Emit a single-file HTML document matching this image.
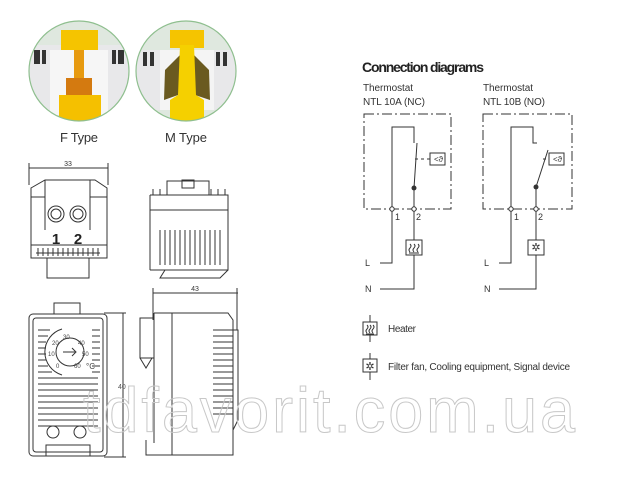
<!DOCTYPE html>
<html><head><meta charset="utf-8"><style>
html,body{margin:0;padding:0;background:#fff;}
svg{display:block;font-family:"Liberation Sans",sans-serif;}
</style></head><body>
<svg width="640" height="477" viewBox="0 0 640 477" xmlns="http://www.w3.org/2000/svg">
<defs>
<clipPath id="c1"><circle cx="79" cy="71" r="50"/></clipPath>
<clipPath id="c2"><circle cx="186" cy="71" r="50"/></clipPath>
</defs>
<!-- F type -->
<g clip-path="url(#c1)">
<rect x="20" y="15" width="120" height="115" fill="#dfe8df"/>
<rect x="29" y="45" width="100" height="70" fill="#e8e8ea"/>
<rect x="34" y="50" width="6" height="14" fill="#333"/><rect x="42" y="50" width="4" height="14" fill="#333"/>
<rect x="112" y="50" width="4" height="14" fill="#333"/><rect x="118" y="50" width="6" height="14" fill="#333"/>
<rect x="50" y="50" width="58" height="65" fill="#f6f6f6"/>
<rect x="61" y="30" width="37" height="20" fill="#f5c400"/>
<rect x="74" y="50" width="10" height="30" fill="#e79a10"/>
<rect x="66" y="78" width="26" height="25" fill="#d47a10"/>
<rect x="59" y="95" width="42" height="30" fill="#f5c000"/>
</g>
<circle cx="79" cy="71" r="50" fill="none" stroke="#8fbf8f" stroke-width="1.2"/>
<!-- M type -->
<g clip-path="url(#c2)">
<rect x="130" y="15" width="120" height="115" fill="#dfe8df"/>
<rect x="136" y="50" width="100" height="60" fill="#e8e8ea"/>
<rect x="143" y="52" width="4" height="14" fill="#333"/><rect x="150" y="52" width="4" height="14" fill="#333"/>
<rect x="216" y="52" width="4" height="14" fill="#333"/><rect x="223" y="52" width="4" height="14" fill="#333"/>
<rect x="160" y="50" width="54" height="60" fill="#f4f4f4"/>
<rect x="170" y="30" width="34" height="18" fill="#f5c400"/>
<polygon points="165,70 180,55 194,55 209,70 210,100 195,95 186,60 178,95 164,100" fill="#6a5a20"/>
<polygon points="180,45 194,45 196,95 204,100 204,122 170,122 170,100 178,95" fill="#f5d000"/>
</g>
<circle cx="186" cy="71" r="50" fill="none" stroke="#8fbf8f" stroke-width="1.2"/>
<text x="79" y="142" font-size="13" text-anchor="middle" fill="#333" textLength="38">F Type</text>
<text x="186" y="142" font-size="13" text-anchor="middle" fill="#333" textLength="42">M Type</text>

<g fill="none" stroke="#333" stroke-width="1">
<!-- front top view -->
<line x1="29" y1="168" x2="108" y2="168"/><line x1="29" y1="163" x2="29" y2="185"/><line x1="108" y1="163" x2="108" y2="185"/>
<path d="M45 180 L95 180 L107 188 L107 258 L31 258 L31 188 Z"/>
<line x1="45" y1="180" x2="45" y2="230"/><line x1="90" y1="180" x2="90" y2="230"/>
<line x1="31" y1="245" x2="107" y2="245"/>
<line x1="31" y1="197" x2="45" y2="197"/><line x1="90" y1="197" x2="107" y2="197"/>
<circle cx="56" cy="214" r="8"/><circle cx="56" cy="214" r="5"/>
<circle cx="78" cy="214" r="8"/><circle cx="78" cy="214" r="5"/>
<path d="M36 253 L100 253 M38 248 v8 M43 248 v8 M48 248 v8 M53 248 v8 M58 248 v8 M63 248 v8 M68 248 v8 M73 248 v8 M78 248 v8 M83 248 v8 M88 248 v8 M93 248 v8 M98 248 v8"/>
<rect x="47" y="258" width="42" height="20"/>
<!-- top view -->
<path d="M150 195 L228 195 L228 270 L165 270 L160 278 L220 278 L228 270"/>
<line x1="150" y1="195" x2="150" y2="270"/><line x1="150" y1="270" x2="165" y2="270"/>
<rect x="167" y="181" width="42" height="14"/><rect x="182" y="180" width="12" height="8"/>
<line x1="150" y1="210" x2="228" y2="210"/>
<path d="M153 195 v-6 M160 195 v-6 M167 195 v-6 M211 195 v-6 M218 195 v-6 M225 195 v-6"/>
<path d="M160 230 v35 M165 230 v35 M170 230 v35 M175 230 v35 M180 230 v35 M185 230 v35 M190 230 v35 M195 230 v35 M200 230 v35 M205 230 v35 M210 230 v35 M215 230 v35 M220 230 v35"/>
<!-- front bottom -->
<rect x="29" y="314" width="78" height="142" rx="4"/>
<rect x="33" y="318" width="70" height="134" rx="3"/>
<rect x="54" y="303" width="26" height="11"/>
<path d="M62 329 A24 24 0 0 0 62 375"/>
<circle cx="70" cy="352" r="14"/>
<path d="M63 352 h12 M72 348 l4 4 l-4 4"/>
<path d="M38 330 h12 M38 336 h10 M38 342 h8 M38 348 h8 M38 354 h8 M38 360 h8 M38 366 h10 M38 372 h14 M38 378 h60 M38 384 h60 M38 390 h60 M38 396 h60 M38 402 h60 M38 408 h60 M38 414 h60 M38 420 h60 M38 426 h60"/>
<path d="M92 330 h8 M92 336 h8 M92 342 h8 M92 348 h8 M92 354 h8 M92 360 h8 M92 366 h8 M92 372 h8"/>
<circle cx="53" cy="432" r="6"/><circle cx="80" cy="432" r="6"/>
<rect x="46" y="445" width="44" height="11"/>
<line x1="104" y1="313" x2="126" y2="313"/><line x1="123" y1="313" x2="123" y2="457"/><line x1="104" y1="457" x2="126" y2="457"/>
<!-- side view -->
<line x1="153" y1="293" x2="238" y2="293"/><line x1="153" y1="288" x2="153" y2="320"/><line x1="237" y1="288" x2="237" y2="330"/>
<path d="M140 318 h14 v40 h-14 z"/>
<path d="M140 358 l6 10 l6 -10"/>
<path d="M154 313 L228 313 L233 320 L233 455 L146 455 L146 440 M154 313 v130"/>
<line x1="172" y1="313" x2="172" y2="455"/>
<path d="M233 330 L238 330 L238 420 L233 430"/>
<path d="M213 330 h20 M213 336 h20 M213 342 h20 M213 348 h20 M213 354 h20 M213 360 h20 M213 366 h20 M213 372 h20 M213 378 h20 M213 384 h20 M213 390 h20 M213 396 h20 M213 402 h20 M213 408 h20 M213 414 h20"/>
</g>
<text x="68" y="166" font-size="7" text-anchor="middle" fill="#333">33</text>
<text x="195" y="291" font-size="7" text-anchor="middle" fill="#333">43</text>
<text x="118" y="389" font-size="7" fill="#555">40</text>
<text x="56" y="244" font-size="15" font-weight="bold" text-anchor="middle" fill="#222">1</text>
<text x="78" y="244" font-size="15" font-weight="bold" text-anchor="middle" fill="#222">2</text>
<g font-size="6" fill="#444"><text x="63" y="339">30</text><text x="52" y="345">20</text><text x="78" y="345">40</text><text x="48" y="356">10</text><text x="82" y="356">50</text><text x="56" y="368">0</text><text x="74" y="368">60</text><text x="86" y="369" font-size="8">°C</text></g>

<!-- Connection diagrams -->
<text x="362" y="72" font-size="14" font-weight="bold" fill="#222" textLength="122">Connection diagrams</text>
<g font-size="10" fill="#333">
<text x="363" y="91" textLength="50">Thermostat</text><text x="363" y="105" textLength="62">NTL 10A (NC)</text>
<text x="483" y="91" textLength="50">Thermostat</text><text x="483" y="105" textLength="62">NTL 10B (NO)</text>
</g>
<g fill="none" stroke="#333" stroke-width="1">
<rect x="364" y="114" width="87" height="95" stroke-dasharray="10,3,2,3"/>
<rect x="483" y="114" width="89" height="95" stroke-dasharray="10,3,2,3"/>
<!-- left -->
<path d="M392 209 V127 H414 V143 M417 143 L414 188 V209"/>
<path d="M415 159 H430" stroke-dasharray="3,3"/>
<rect x="430" y="153" width="15" height="12"/>
<path d="M392 209 V263 H380 M414 209 V240 M414 255 V289 H380"/>
<rect x="406" y="240" width="16" height="15"/>
<path d="M410 244 q2 2 0 4 q-2 2 0 4 M414 244 q2 2 0 4 q-2 2 0 4 M418 244 q2 2 0 4 q-2 2 0 4 M409 253 h10"/>
<!-- right -->
<path d="M511 209 V127 H533 V143 H537 M536 187 L548 150 M536 187 V209"/>
<path d="M543 159 H549" stroke-dasharray="3,3"/>
<rect x="549" y="153" width="15" height="12"/>
<path d="M511 209 V263 H499 M536 209 V240 M536 255 V289 H499"/>
<rect x="528" y="240" width="16" height="15"/>
<!-- legend -->
<path d="M370 315 V342"/><rect x="363" y="322" width="14" height="13" fill="#fff"/>
<path d="M367 325 q2 2 0 4 q-2 2 0 4 M370 325 q2 2 0 4 q-2 2 0 4 M373 325 q2 2 0 4 q-2 2 0 4 M366 334 h8"/>
<path d="M370 353 V380"/><rect x="363" y="359" width="14" height="13" fill="#fff"/>
</g>
<g fill="#333">
<circle cx="414" cy="188" r="2.5"/><circle cx="536" cy="187" r="2.5"/>
<text x="536" y="251" font-size="11" text-anchor="middle">✲</text>
<text x="370" y="370" font-size="11" text-anchor="middle">✲</text>
</g>
<g fill="#fff" stroke="#333" stroke-width="1">
<circle cx="392" cy="209" r="2.2"/><circle cx="414" cy="209" r="2.2"/>
<circle cx="511" cy="209" r="2.2"/><circle cx="536" cy="209" r="2.2"/>
</g>
<text x="434" y="162" font-size="8" fill="#333">&lt;ϑ</text>
<text x="553" y="162" font-size="8" fill="#333">&lt;ϑ</text>
<g font-size="9" fill="#333">
<text x="395" y="220">1</text><text x="416" y="220">2</text>
<text x="514" y="220">1</text><text x="538" y="220">2</text>
<text x="365" y="266">L</text><text x="365" y="292">N</text>
<text x="484" y="266">L</text><text x="484" y="292">N</text>
</g>
<text x="388" y="332" font-size="10" fill="#333" textLength="28">Heater</text>
<text x="388" y="370" font-size="10" fill="#333" textLength="182">Filter fan, Cooling equipment, Signal device</text>
<!-- watermark -->
<text x="83" y="432" font-size="63" fill="none" stroke="#c8c8c8" stroke-width="1" textLength="492">tdfavorit.com.ua</text>
</svg>
</body></html>
